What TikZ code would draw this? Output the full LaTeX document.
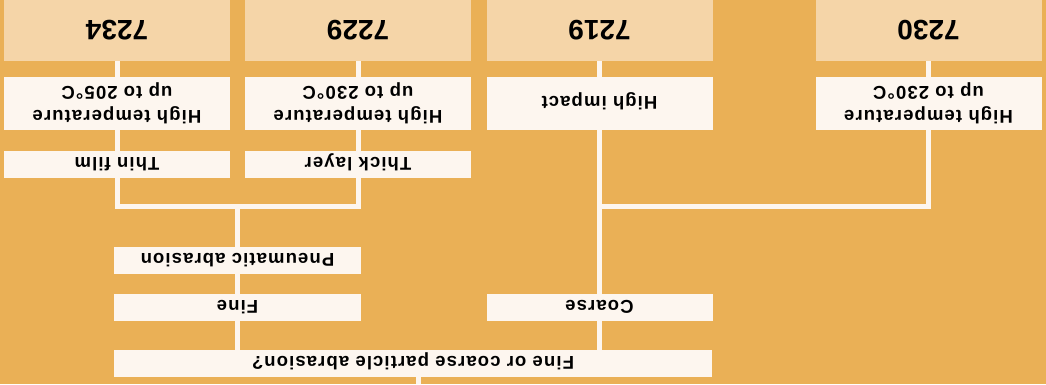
\documentclass[tikz,border=0pt]{standalone}
\usepackage{fontspec}
\setmainfont{Liberation Sans}
\newfontfamily\lblfont[LetterSpace=6]{Liberation Sans}
\usetikzlibrary{backgrounds,calc}
\definecolor{bgorange}{HTML}{EAB056}
\definecolor{hdr}{HTML}{F5D5A8}
\definecolor{cream}{HTML}{FDF6EF}
\begin{document}
\begin{tikzpicture}[x=1pt,y=-1pt,
  box/.style={rotate=180, fill=cream, inner sep=0pt, align=center,
    font=\lblfont\bfseries\fontsize{18.5}{24}\selectfont},
  one/.style={box, text height=13.5pt, text depth=0pt, minimum height=27pt},
  two/.style={box, minimum height=53pt, minimum width=226pt},
  hdrbox/.style={rotate=180, fill=hdr, inner sep=0pt, minimum width=226pt,
    minimum height=61pt, text height=20pt, text depth=0pt,
    font=\bfseries\fontsize{28}{30}\selectfont},
  link/.style={draw=cream, line width=5pt}]
\useasboundingbox (0,0) rectangle (1046,384);
% headers
\node[hdrbox] (h7234) at (117,30.5) {7234};
\node[hdrbox] (h7229) at (358,30.5) {7229};
\node[hdrbox] (h7219) at (599.5,30.5) {7219};
\node[hdrbox] (h7230) at (928.5,30.5) {7230};
% second row
\node[two] (t7234) at (117,103.5) {High temperature\\up to 205°C};
\node[two] (t7229) at (358,103.5) {High temperature\\up to 230°C};
\node[two, text height=13.5pt, text depth=0pt] (t7219) at (599.5,103.5) {High impact};
\node[two] (t7230) at (928.5,103.5) {High temperature\\up to 230°C};
% third row
\node[one, minimum width=226pt] (thin) at (117,164.5) {Thin film};
\node[one, minimum width=226pt] (thick) at (358,164.5) {Thick layer};
% lower part
\node[one, minimum width=247pt] (pneu) at (237.5,260.5) {Pneumatic abrasion};
\node[one, minimum width=247pt] (fine) at (237.5,307.5) {Fine};
\node[one, minimum width=226pt] (coarse) at (599.5,307.5) {Coarse};
\node[one, minimum width=598pt] (q) at (413,363.5) {Fine or coarse particle abrasion?};
\coordinate (jL) at (237.5,206);
\coordinate (bot) at (0,384);
\coordinate (mid) at ($(fine)!0.5!(coarse)$);
\begin{scope}[on background layer]
  \fill[bgorange] (0,0) rectangle (1046,384);
  \draw[link] (h7234.center) |- (jL) -| (h7229.center);
  \draw[link] (jL) -- (pneu.center) -- (fine.center) -- (fine.center |- q.center);
  \draw[link] (h7219.center) -- (coarse.center) -- (coarse.center |- q.center);
  \draw[link] (h7230.center) |- (h7219.center |- jL);
  \draw[link] (mid |- q.center) -- (mid |- bot);
\end{scope}
\end{tikzpicture}
\end{document}
